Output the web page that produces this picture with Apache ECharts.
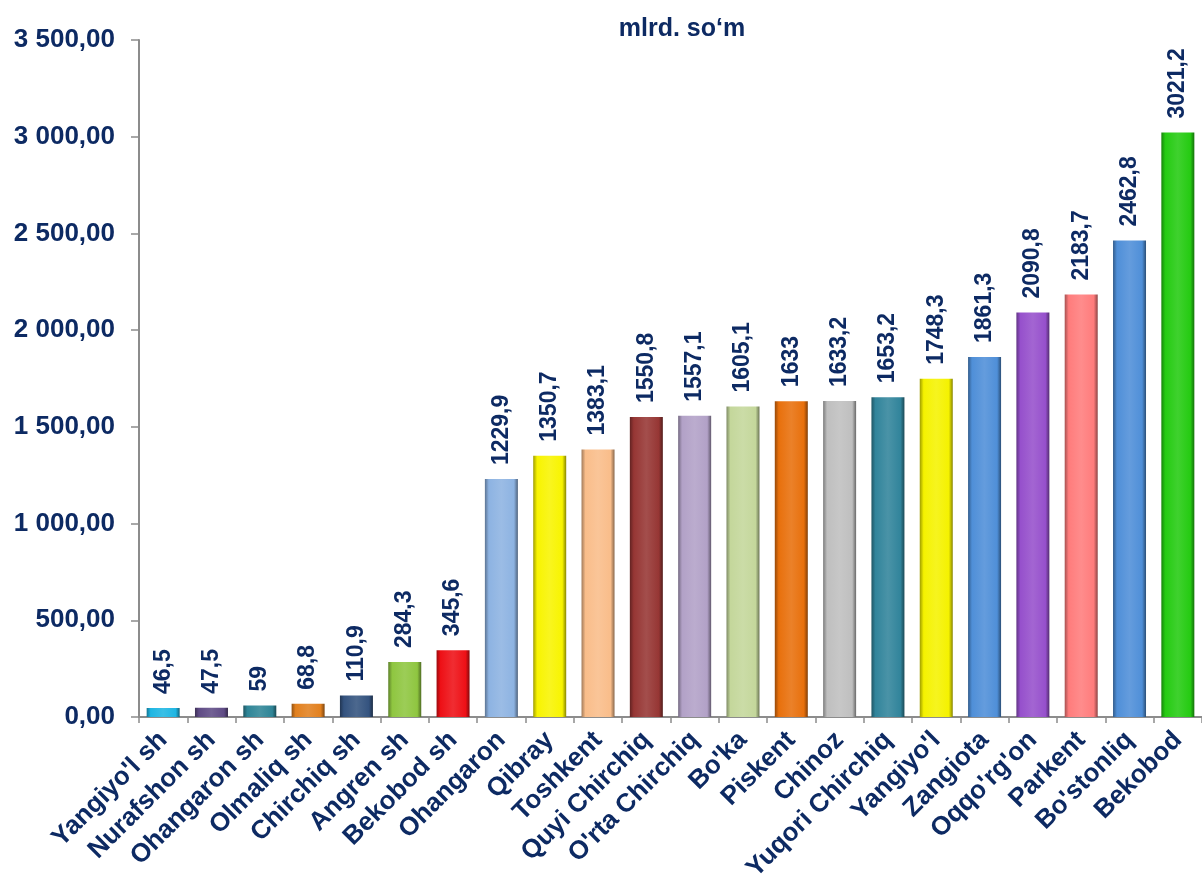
<!DOCTYPE html>
<html><head><meta charset="utf-8">
<script src="https://cdn.jsdelivr.net/npm/echarts@6/dist/echarts.min.js"></script>
<style>html,body{margin:0;padding:0;background:#fff}#c{width:1202px;height:886px}</style>
</head><body><div id="c"></div>
<script>
const categories = ["Yangiyo'l sh","Nurafshon sh","Ohangaron sh","Olmaliq sh","Chirchiq sh","Angren sh","Bekobod sh","Ohangaron","Qibray","Toshkent","Quyi Chirchiq","O'rta Chirchiq","Bo'ka","Piskent","Chinoz","Yuqori Chirchiq","Yangiyo'l","Zangiota","Oqqo'rg'on","Parkent","Bo'stonliq","Bekobod"];
const values = [46.5,47.5,59,68.8,110.9,284.3,345.6,1229.9,1350.7,1383.1,1550.8,1557.1,1605.1,1633,1633.2,1653.2,1748.3,1861.3,2090.8,2183.7,2462.8,3021.2];
const barColors = ["#1fb6e3","#5f4b85","#2f8597","#e2801e","#34537f","#8fc640","#ee1016","#8db3e2","#f8f400","#f9bd8a","#963634","#b2a1c7","#c4d79b","#e8700c","#bfbfbf","#31849b","#f5f200","#4f8fd8","#9650cc","#ff7c7c","#4f8fd8","#25cb12"];
const yTicks = [0,500,1000,1500,2000,2500,3000,3500];
const unitTitle = "mlrd. so‘m";

function shade(hex, f){
  let r=parseInt(hex.slice(1,3),16),g=parseInt(hex.slice(3,5),16),b=parseInt(hex.slice(5,7),16);
  if(f<0){r=Math.round(r*(1+f));g=Math.round(g*(1+f));b=Math.round(b*(1+f));}
  else{r=Math.round(r+(255-r)*f);g=Math.round(g+(255-g)*f);b=Math.round(b+(255-b)*f);}
  return 'rgb('+r+','+g+','+b+')';
}
const navy = '#0d2a63';
const chart = echarts.init(document.getElementById('c'));
chart.setOption({
  animation:false,
  backgroundColor:'#fff',
  title:{text:unitTitle,left:677,top:12,textAlign:'center',textStyle:{fontFamily:'Liberation Sans',fontWeight:'bold',fontSize:25,color:navy}},
  grid:{left:139,top:40,width:1068,height:677,containLabel:false},
  xAxis:{type:'category',data:categories,
    axisLine:{lineStyle:{color:'#8c8c8c',width:2}},
    axisTick:{show:true,length:6,lineStyle:{color:'#8c8c8c',width:1.5}},
    axisLabel:{rotate:45,interval:0,margin:19,fontFamily:'Liberation Sans',fontWeight:'bold',fontSize:26,color:navy}},
  yAxis:{type:'value',min:yTicks[0],max:yTicks[yTicks.length-1],interval:500,
    axisLine:{show:true,lineStyle:{color:'#8c8c8c',width:2}},
    axisTick:{show:true,length:8,lineStyle:{color:'#8c8c8c',width:1.5}},
    splitLine:{show:false},
    axisLabel:{margin:24,fontFamily:'Liberation Sans',fontWeight:'bold',fontSize:26,color:navy,
      formatter:v=>{const s=Math.round(v).toString().replace(/\B(?=(\d{3})+(?!\d))/g,' ');return s+',00';}}},
  series:[{type:'bar',barWidth:33,
    data:values.map((v,i)=>({value:v,itemStyle:{color:new echarts.graphic.LinearGradient(0,0,1,0,[
      {offset:0,color:shade(barColors[i],-0.35)},
      {offset:0.12,color:barColors[i]},
      {offset:0.5,color:shade(barColors[i],0.12)},
      {offset:0.88,color:barColors[i]},
      {offset:1,color:shade(barColors[i],-0.45)}])}})),
    label:{show:true,position:'top',rotate:90,align:'left',verticalAlign:'middle',distance:14,
      fontFamily:'Liberation Sans',fontWeight:'bold',fontSize:23,color:navy,
      formatter:p=>String(p.value).replace('.',',')}
  }]
});
</script></body></html>
